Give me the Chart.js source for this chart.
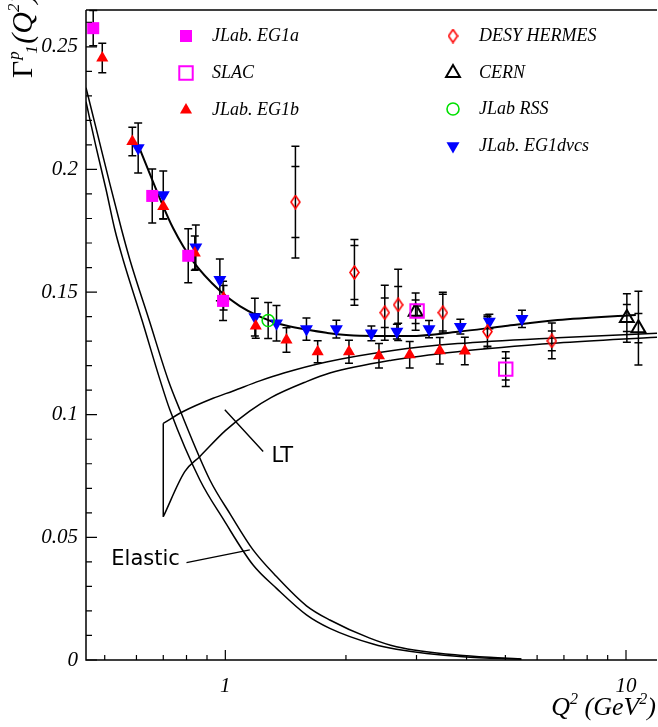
<!DOCTYPE html>
<html>
<head>
<meta charset="utf-8">
<title>Gamma1 proton vs Q2</title>
<script src="https://cdn.jsdelivr.net/npm/chart.js@4.4.0/dist/chart.umd.min.js"></script>
<style>
html, body { margin: 0; padding: 0; background: #fff; overflow: hidden; }
#wrap { width: 658px; height: 727px; position: relative; }
#g1Chart { display: block; }
</style>
</head>
<body>
<div id="wrap"><canvas id="g1Chart"></canvas></div>
<script>
// Q2 in GeV^2, Gamma1 values and total / statistical errors
var eg1aQ2 = [0.468, 0.657, 0.808, 0.987];
var eg1aG1 = [0.2576, 0.1892, 0.1648, 0.1464];
var eg1aErr = [0.0072, 0.011, 0.011, 0.008];

var slacQ2 = [3.01, 5.01];
var slacG1 = [0.1423, 0.1186];
var slacErr = [0.002, 0.0071];
var slacStat = [0, 0.0044];

var eg1bQ2 = [0.493, 0.586, 0.700, 0.839, 0.99, 1.191, 1.421, 1.70, 2.035, 2.418, 2.885, 3.43, 3.96];
var eg1bG1 = [0.2454, 0.2114, 0.1849, 0.1659, 0.1477, 0.1362, 0.1305, 0.1257, 0.1257, 0.1240, 0.1244, 0.1261, 0.1260];
var eg1bErr = [0.006, 0.0058, 0.005, 0.007, 0.005, 0.005, 0.005, 0.0045, 0.0047, 0.005, 0.0054, 0.0054, 0.0056];

var hermesQ2 = [1.496, 2.10, 2.50, 2.70, 3.49, 4.51, 6.53];
var hermesG1 = [0.1867, 0.1580, 0.1416, 0.1448, 0.1416, 0.1339, 0.1301];
var hermesErr = [0.0228, 0.0134, 0.0112, 0.0145, 0.0083, 0.0068, 0.0073];
var hermesStat = [0.0145, 0.011, 0.006, 0.0075, 0.0075, 0.006, 0.004];

var cernQ2 = [2.985, 10.05, 10.74];
var cernG1 = [0.1420, 0.1394, 0.1353];
var cernErr = [0.0076, 0.0099, 0.015];
var cernStat = [0.0048, 0.0055, 0.006];

var rssQ2 = [1.279];
var rssG1 = [0.1384];
var rssErr = [0.0073];

var dvcsQ2 = [0.606, 0.700, 0.844, 0.969, 1.185, 1.342, 1.594, 1.893, 2.315, 2.68, 3.224, 3.86, 4.56, 5.50];
var dvcsG1 = [0.2087, 0.1896, 0.1683, 0.1550, 0.1398, 0.1373, 0.1349, 0.1349, 0.1332, 0.1339, 0.1349, 0.1359, 0.1380, 0.1391];
var dvcsErr = [0.0102, 0.0098, 0.009, 0.0085, 0.0077, 0.0072, 0.0045, 0.0036, 0.003, 0.003, 0.0035, 0.003, 0.003, 0.0035];

// curves
var fitQ2 = [0.606, 0.648, 0.687, 0.741, 0.831, 0.969, 1.087, 1.219, 1.367, 1.594, 1.788, 2.165, 2.885, 3.80, 5.00, 6.75, 10.58];
var fitG1 = [0.2100, 0.1982, 0.1880, 0.1760, 0.1625, 0.1505, 0.1443, 0.1400, 0.1370, 0.1347, 0.1334, 0.1322, 0.1321, 0.1338, 0.1362, 0.1386, 0.1407];

var ltUpQ2 = [0.700, 0.785, 0.932, 1.046, 1.219, 1.40, 1.788, 2.62, 3.80, 6.75, 11.95];
var ltUpG1 = [0.0965, 0.1013, 0.1067, 0.1097, 0.1138, 0.1170, 0.1215, 0.1262, 0.1290, 0.1314, 0.1332];
var ltLoQ2 = [0.700, 0.792, 0.864, 1.00, 1.15, 1.30, 1.594, 1.823, 2.60, 3.80, 6.75, 11.95];
var ltLoG1 = [0.0584, 0.0768, 0.0830, 0.0935, 0.1015, 0.1070, 0.1135, 0.1170, 0.1222, 0.1257, 0.1292, 0.1316];
var ltEdgeQ2 = [0.700, 0.700];
var ltEdgeG1 = [0.0584, 0.0965];

var elUpQ2 = [0.449, 0.481, 0.515, 0.551, 0.578, 0.645, 0.720, 0.770, 0.915, 1.032, 1.173, 1.342, 1.594, 1.823, 2.293, 2.673, 3.917, 5.48];
var elUpG1 = [0.2333, 0.2137, 0.1941, 0.1754, 0.1631, 0.1387, 0.1142, 0.1020, 0.0734, 0.0591, 0.0449, 0.0340, 0.0221, 0.0163, 0.0089, 0.0054, 0.0018, 0.0004];
var elLoQ2 = [0.449, 0.475, 0.504, 0.530, 0.556, 0.619, 0.687, 0.727, 0.864, 0.991, 1.173, 1.342, 1.594, 1.823, 2.336, 2.673, 3.917, 5.48];
var elLoG1 = [0.2276, 0.2096, 0.1917, 0.1754, 0.1631, 0.1387, 0.1142, 0.1020, 0.0734, 0.0571, 0.0387, 0.0292, 0.0184, 0.0129, 0.0065, 0.0044, 0.0013, 0.0003];

var xTicks = [1, 10];
var yTicks = [0, 0.05, 0.1, 0.15, 0.2, 0.25];

function pts(xs, ys) {
    return xs.map(function (x, i) { return { x: x, y: ys[i] }; });
}

function makeDiamond() {
    var c = document.createElement('canvas');
    c.width = 11; c.height = 15;
    var g = c.getContext('2d');
    g.strokeStyle = '#ff0000';
    g.lineWidth = 1.6;
    g.beginPath();
    g.moveTo(5.5, 1); g.lineTo(10, 7.5); g.lineTo(5.5, 14); g.lineTo(1, 7.5);
    g.closePath();
    g.stroke();
    return c;
}

function marker(label, xs, ys, err, stat, style) {
    return {
        label: label,
        data: pts(xs, ys),
        errTot: err,
        errStat: stat,
        showLine: false,
        pointStyle: style.shape,
        pointRadius: style.r,
        pointRotation: style.rot || 0,
        pointBackgroundColor: style.fill || 'rgba(0,0,0,0)',
        pointBorderColor: style.line,
        pointBorderWidth: style.w || 0
    };
}

function curve(xs, ys, width, mode) {
    return {
        label: '',
        data: pts(xs, ys),
        showLine: true,
        pointRadius: 0,
        borderColor: '#000',
        borderWidth: width,
        cubicInterpolationMode: mode,
        tension: 0
    };
}

var datasets = [
    marker('JLab. EG1a', eg1aQ2, eg1aG1, eg1aErr, null, { shape: 'rect', r: 8.5, fill: '#ff00ff', line: '#ff00ff' }),
    marker('SLAC', slacQ2, slacG1, slacErr, slacStat, { shape: 'rect', r: 9.5, line: '#ff00ff', w: 2 }),
    marker('JLab. EG1b', eg1bQ2, eg1bG1, eg1bErr, null, { shape: 'triangle', r: 7, fill: '#ff0000', line: '#ff0000' }),
    marker('DESY HERMES', hermesQ2, hermesG1, hermesErr, hermesStat, { shape: makeDiamond(), r: 6, line: '#ff0000' }),
    marker('CERN', cernQ2, cernG1, cernErr, cernStat, { shape: 'triangle', r: 8, line: '#000', w: 2 }),
    marker('JLab RSS', rssQ2, rssG1, rssErr, null, { shape: 'circle', r: 6, line: '#00e000', w: 1.6 }),
    marker('JLab. EG1dvcs', dvcsQ2, dvcsG1, dvcsErr, null, { shape: 'triangle', r: 7.5, rot: 180, fill: '#0000ff', line: '#0000ff' }),
    curve(fitQ2, fitG1, 2, 'monotone'),
    curve(ltUpQ2, ltUpG1, 1.5, 'monotone'),
    curve(ltLoQ2, ltLoG1, 1.5, 'monotone'),
    curve(ltEdgeQ2, ltEdgeG1, 1.5, 'default'),
    curve(elUpQ2, elUpG1, 1.5, 'monotone'),
    curve(elLoQ2, elLoG1, 1.5, 'monotone')
];

var legendSlots = [
    { label: 'JLab. EG1a', x: 186, y: 36 },
    { label: 'SLAC', x: 186, y: 73 },
    { label: 'JLab. EG1b', x: 186, y: 110 },
    { label: 'DESY HERMES', x: 453, y: 36 },
    { label: 'CERN', x: 453, y: 73 },
    { label: 'JLab RSS', x: 453, y: 109 },
    { label: 'JLab. EG1dvcs', x: 453, y: 146 }
];

var errorBars = {
    id: 'errorBars',
    beforeDatasetsDraw: function (chart) {
        var ctx = chart.ctx, ys = chart.scales.y;
        ctx.save();
        ctx.strokeStyle = '#000';
        ctx.lineWidth = 1.5;
        chart.data.datasets.forEach(function (ds, i) {
            if (!ds.errTot) return;
            chart.getDatasetMeta(i).data.forEach(function (pt, j) {
                var v = ds.data[j].y;
                var top = ys.getPixelForValue(v + ds.errTot[j]);
                var bot = ys.getPixelForValue(v - ds.errTot[j]);
                ctx.beginPath();
                ctx.moveTo(pt.x, top); ctx.lineTo(pt.x, bot);
                ctx.moveTo(pt.x - 4, top); ctx.lineTo(pt.x + 4, top);
                ctx.moveTo(pt.x - 4, bot); ctx.lineTo(pt.x + 4, bot);
                if (ds.errStat && ds.errStat[j]) {
                    var t2 = ys.getPixelForValue(v + ds.errStat[j]);
                    var b2 = ys.getPixelForValue(v - ds.errStat[j]);
                    ctx.moveTo(pt.x - 4, t2); ctx.lineTo(pt.x + 4, t2);
                    ctx.moveTo(pt.x - 4, b2); ctx.lineTo(pt.x + 4, b2);
                }
                ctx.stroke();
            });
        });
        ctx.restore();
    }
};

// frame, inward ticks, titles, labels and legend
var decorations = {
    id: 'decorations',
    afterDraw: function (chart) {
        var ctx = chart.ctx, a = chart.chartArea;
        var xs = chart.scales.x, ys = chart.scales.y;
        ctx.save();
        ctx.strokeStyle = '#000';
        ctx.lineWidth = 1.5;
        ctx.beginPath();
        ctx.moveTo(a.left, a.top); ctx.lineTo(a.right, a.top);
        ctx.moveTo(a.left, a.top); ctx.lineTo(a.left, a.bottom); ctx.lineTo(a.right, a.bottom);
        ctx.stroke();

        ctx.lineWidth = 1.2;
        ctx.beginPath();
        for (var k = 0; k <= 26; k++) {
            var py = ys.getPixelForValue(k / 100);
            var len = (k % 5 === 0) ? 11 : 6;
            ctx.moveTo(a.left, py); ctx.lineTo(a.left + len, py);
        }
        [0.5, 0.6, 0.7, 0.8, 0.9, 1, 2, 3, 4, 5, 6, 7, 8, 9, 10].forEach(function (q) {
            var px = xs.getPixelForValue(q);
            var l = (q === 1 || q === 10) ? 10 : 5;
            ctx.moveTo(px, a.bottom); ctx.lineTo(px, a.bottom - l);
        });
        ctx.stroke();

        // annotations
        ctx.lineWidth = 1.4;
        ctx.beginPath();
        ctx.moveTo(xs.getPixelForValue(0.997), ys.getPixelForValue(0.102));
        ctx.lineTo(xs.getPixelForValue(1.243), ys.getPixelForValue(0.085));
        ctx.moveTo(xs.getPixelForValue(0.800), ys.getPixelForValue(0.0397));
        ctx.lineTo(xs.getPixelForValue(1.151), ys.getPixelForValue(0.0449));
        ctx.stroke();
        ctx.fillStyle = '#000';
        ctx.font = '21px "DejaVu Sans"';
        ctx.textBaseline = 'middle';
        ctx.textAlign = 'left';
        ctx.fillText('LT', xs.getPixelForValue(1.304), ys.getPixelForValue(0.0828));
        ctx.textAlign = 'right';
        ctx.fillText('Elastic', xs.getPixelForValue(0.770), ys.getPixelForValue(0.0408));

        // legend
        ctx.textAlign = 'left';
        ctx.font = 'italic 18px "Liberation Serif"';
        legendSlots.forEach(function (s) {
            var ds = chart.data.datasets.find(function (d) { return d.label === s.label; });
            ctx.save();
            ctx.fillStyle = ds.pointBackgroundColor;
            ctx.strokeStyle = ds.pointBorderColor;
            ctx.lineWidth = ds.pointBorderWidth;
            Chart.helpers.drawPoint(ctx, {
                pointStyle: ds.pointStyle, rotation: ds.pointRotation,
                radius: ds.pointRadius, borderWidth: ds.pointBorderWidth
            }, s.x, s.y);
            ctx.restore();
            ctx.fillStyle = '#000';
            ctx.fillText(s.label, s.x + 26, s.y);
        });

        // axis titles
        ctx.textBaseline = 'alphabetic';
        var big = 'italic 26px "Liberation Serif"', small = 'italic 16px "Liberation Serif"';
        var parts = [[big, 'Q', 0], [small, '2', -11], [big, ' (GeV', 0], [small, '2', -11], [big, ')', 0]];
        var total = 0;
        parts.forEach(function (p) { ctx.font = p[0]; total += ctx.measureText(p[1]).width; });
        var cx = 656 - total;
        parts.forEach(function (p) {
            ctx.font = p[0];
            ctx.fillText(p[1], cx, 715 + p[2]);
            cx += ctx.measureText(p[1]).width;
        });

        ctx.translate(32, 78);
        ctx.rotate(-Math.PI / 2);
        ctx.font = '30px "Liberation Serif"';
        ctx.fillText('\u0393', 0, 0);
        var gx = ctx.measureText('\u0393').width + 1;
        ctx.font = 'italic 17px "Liberation Serif"';
        ctx.fillText('p', gx, -13);
        ctx.fillText('1', gx + 6, 5);
        gx += 16;
        ctx.font = 'italic 30px "Liberation Serif"';
        ctx.fillText('(Q', gx, 0);
        gx += ctx.measureText('(Q').width;
        ctx.font = 'italic 17px "Liberation Serif"';
        ctx.fillText('2', gx, -13);
        gx += ctx.measureText('2').width;
        ctx.font = 'italic 30px "Liberation Serif"';
        ctx.fillText(')', gx, 0);
        ctx.restore();
    }
};

var tickFont = { family: 'Liberation Serif', size: 21, style: 'italic' };

new Chart(document.getElementById('g1Chart'), {
    type: 'scatter',
    data: { datasets: datasets },
    options: {
        responsive: true,
        maintainAspectRatio: false,
        animation: false,
        layout: { autoPadding: false, padding: { top: 10, right: 1, left: 0, bottom: 0 } },
        plugins: { legend: { display: false }, tooltip: { enabled: false } },
        scales: {
            x: {
                type: 'logarithmic',
                min: 0.449,
                max: 11.95,
                grid: { display: false, drawTicks: false },
                border: { display: false },
                afterBuildTicks: function (scale) {
                    scale.ticks = xTicks.map(function (v) { return { value: v }; });
                },
                afterFit: function (scale) {
                    scale.height = 67;
                    scale.paddingLeft = 0;
                    scale.paddingRight = 0;
                },
                ticks: {
                    color: '#000', font: tickFont, padding: 14, maxRotation: 0,
                    callback: function (v) { return String(v); }
                }
            },
            y: {
                min: 0,
                max: 0.265,
                grid: { display: false, drawTicks: false },
                border: { display: false },
                afterBuildTicks: function (scale) {
                    scale.ticks = yTicks.map(function (v) { return { value: v }; });
                },
                afterFit: function (scale) {
                    scale.width = 86;
                    scale.paddingTop = 0;
                    scale.paddingBottom = 0;
                },
                ticks: {
                    color: '#000', font: tickFont, padding: 8,
                    callback: function (v) { return String(+v.toFixed(2)); }
                }
            }
        }
    },
    plugins: [errorBars, decorations]
});
</script>
</body>
</html>
